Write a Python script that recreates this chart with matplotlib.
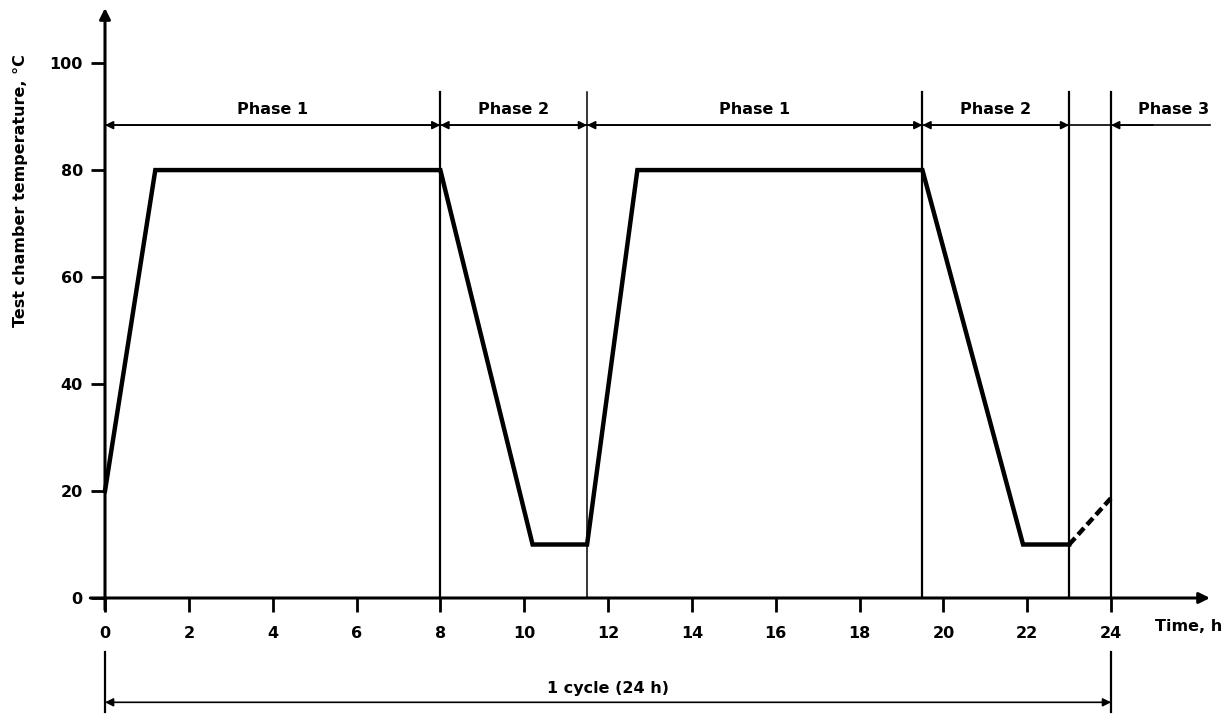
import matplotlib
matplotlib.use('Agg')
import matplotlib.pyplot as plt

# Temperature profile of one cycle (time in h, temperature in deg C).
times = [0, 1.2, 8, 10.2, 11.5, 12.7, 19.5, 21.9, 23]
temps = [20, 80, 80, 10, 10, 80, 80, 10, 10]
# Start of the next cycle, drawn dashed.
next_times = [23, 24]
next_temps = [10, 18.7]

# Phase boundaries and labels.
boundaries = [8, 11.5, 19.5, 23, 24]
phases = [(0, 8, 'Phase 1'), (8, 11.5, 'Phase 2'), (11.5, 19.5, 'Phase 1'),
          (19.5, 23, 'Phase 2')]
phase3_start = 24

x_ticks = list(range(0, 25, 2))
y_ticks = [0, 20, 40, 60, 80, 100]

x_max = 26.36
y_max = 110.3
phase_y = 88.4
bound_top = 94.6
fs = 11.5

plt.rcParams['font.family'] = ['DejaVu Sans']
plt.rcParams['font.weight'] = 'bold'

fig = plt.figure(figsize=(12.32, 7.15), dpi=100)
ax = fig.add_axes([105 / 1232, 117 / 715, (1210 - 105) / 1232, (598 - 8) / 715])
ax.set_xlim(0, x_max)
ax.set_ylim(0, y_max)
for s in ax.spines.values():
    s.set_visible(False)

# Axis lines with arrow heads.
ax.annotate('', xy=(x_max, 0), xytext=(-0.35, 0), annotation_clip=False,
            arrowprops=dict(arrowstyle='-|>', color='black', lw=2.2,
                            mutation_scale=16, shrinkA=0, shrinkB=0))
ax.annotate('', xy=(0, y_max), xytext=(0, -2.2), annotation_clip=False,
            arrowprops=dict(arrowstyle='-|>', color='black', lw=2.2,
                            mutation_scale=16, shrinkA=0, shrinkB=0))

ax.set_xticks(x_ticks)
ax.set_yticks(y_ticks)
ax.tick_params(axis='both', direction='out', length=10, width=2, labelsize=fs)
ax.tick_params(axis='x', pad=10)
ax.tick_params(axis='y', pad=6)

# Temperature curve.
ax.plot(times, temps, color='black', lw=3.2, solid_joinstyle='miter', clip_on=False)
ax.plot(next_times, next_temps, color='black', lw=3.2, ls=(0, (2, 1)), clip_on=False)

# Phase boundaries.
for b in boundaries:
    ax.plot([b, b], [0, bound_top], color='black', lw=1.6 if b != 11.5 else 1.1)

# Phase dimension line.
ax.plot([0, x_max], [phase_y, phase_y], color='black', lw=1.2, clip_on=False)
for start, end, label in phases:
    ax.annotate('', xy=(start, phase_y), xytext=(end, phase_y),
                arrowprops=dict(arrowstyle='<|-|>', color='black', lw=1.2,
                                mutation_scale=12, shrinkA=0, shrinkB=0))
    ax.text((start + end) / 2, phase_y + 1.6, label, ha='center', va='bottom',
            fontsize=fs, fontweight='bold')
ax.annotate('', xy=(phase3_start, phase_y), xytext=(phase3_start + 1.0, phase_y),
            arrowprops=dict(arrowstyle='-|>', color='black', lw=1.2,
                            mutation_scale=12, shrinkA=0, shrinkB=0))
ax.text(25.5, phase_y + 1.6, 'Phase 3', ha='center', va='bottom',
        fontsize=fs, fontweight='bold')

# One cycle dimension below the axis.
for b in [0, 24]:
    ax.plot([b, b], [-10.1, -21.3], color='black', lw=1.6, clip_on=False)
ax.annotate('', xy=(0, -19.5), xytext=(24, -19.5), annotation_clip=False,
            arrowprops=dict(arrowstyle='<|-|>', color='black', lw=1.2,
                            mutation_scale=12, shrinkA=0, shrinkB=0))
ax.text(12, -18.3, '1 cycle (24 h)', ha='center', va='bottom',
        fontsize=fs, fontweight='bold', clip_on=False)

ax.text(25.85, -5.4, 'Time, h', ha='center', va='center',
        fontsize=fs, fontweight='bold', clip_on=False)
ax.set_ylabel('Test chamber temperature, °C', fontsize=fs, fontweight='bold')
ax.yaxis.set_label_coords(-0.07, 0.69)

fig.savefig('out.png', dpi=100)
